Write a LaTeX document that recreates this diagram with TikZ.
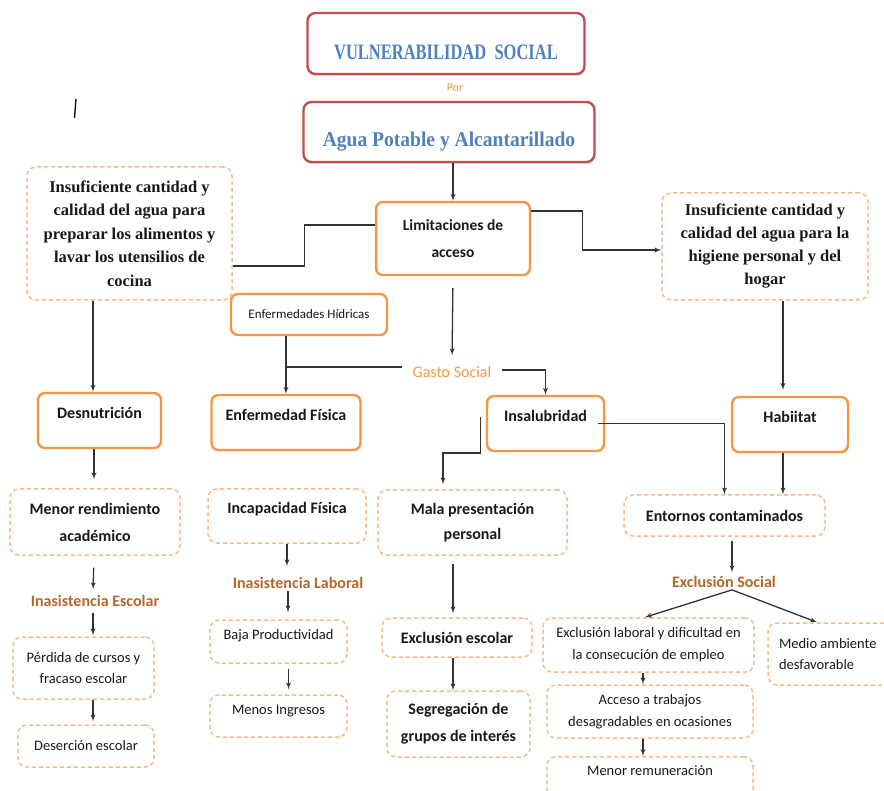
\documentclass[tikz,border=0pt]{standalone}
\usepackage{fontspec}
\setmainfont{Liberation Serif}
\setsansfont{Carlito}
\newfontfamily\titlefont[FakeStretch=0.75]{Liberation Serif}
\newfontfamily\aguafont[FakeStretch=0.93]{Liberation Serif}
\usepackage{tikz}
\usetikzlibrary{shapes,arrows,shadows}
\definecolor{redbox}{HTML}{C0504D}
\definecolor{bluetext}{HTML}{4F81BD}
\definecolor{orangebox}{HTML}{F79646}
\definecolor{orangedash}{HTML}{FAB98A}
\definecolor{browntext}{HTML}{B8652A}
\definecolor{linegray}{HTML}{333333}
\tikzstyle{titlebox} =
        [
                rectangle,
                draw = redbox,
                line width = 2.4pt,
                fill = white,
                rounded corners = 8pt,
                drop shadow = {shadow xshift=0.5pt, shadow yshift=-2pt, opacity=0.35, fill=redbox!60},
                text = bluetext,
                inner sep = 0pt,
                anchor = base
        ]
\tikzstyle{block} =
        [
                rectangle,
                draw = orangebox,
                line width = 2.4pt,
                fill = white,
                rounded corners = 7pt,
                align = center,
                text = black!90,
                inner sep = 0pt,
                font = \sffamily\bfseries\fontsize{16}{27}\selectfont
        ]
\tikzstyle{dashblock} =
        [
                rectangle,
                draw = orangedash,
                line width = 1.5pt,
                dash pattern = on 4pt off 3pt,
                rounded corners = 9pt,
                align = center,
                text = black!90,
                inner sep = 0pt,
                font = \sffamily\bfseries\fontsize{16}{27}\selectfont
        ]
\tikzstyle{small} = [font = \sffamily\fontsize{14.5}{21.5}\selectfont]
\tikzstyle{raised} = [text height = 10pt, text depth = 14pt]
\tikzstyle{tag} =
        [
                inner sep = 2pt,
                text = browntext,
                font = \sffamily\bfseries\fontsize{16}{20}\selectfont
        ]
\tikzstyle{link} =
        [
                draw = linegray,
                line width = 1.3pt
        ]
\tikzstyle{line} =
        [
                link,
                -latex'
        ]
\begin{document}
\begin{tikzpicture}[x=1pt, y=-1pt]
    \useasboundingbox (0,0) rectangle (884,791);
    % titles
    \node [titlebox, minimum width=277, text height=47pt, text depth=14pt, font=\titlefont\bfseries\fontsize{22}{26}\selectfont] (vul) at (446,60) {VULNERABILIDAD\ \ SOCIAL};
    \node [tag, text=orangebox, font=\sffamily\fontsize{12}{14}\selectfont] (por) at (455,88) {Por};
    \node [titlebox, minimum width=291, text height=45pt, text depth=15pt, font=\aguafont\bfseries\fontsize{21}{25}\selectfont] (agua) at (449,147) {Agua Potable y Alcantarillado};
    \draw [line width=1.3pt] (76,99) -- (74.5,118);

    % second row
    \node [dashblock, minimum width=205, minimum height=133, font=\rmfamily\bfseries\fontsize{16.5}{23.5}\selectfont] (alim) at (129.5,233.5) {Insuficiente cantidad y\\calidad del agua para\\preparar los alimentos y\\lavar los utensilios de\\cocina};
    \node [block, minimum width=154, minimum height=73, font=\sffamily\bfseries\fontsize{15.5}{27}\selectfont] (lim) at (453,238.5) {Limitaciones de\\acceso};
    \node [dashblock, minimum width=206, minimum height=107, font=\rmfamily\bfseries\fontsize{16.5}{23}\selectfont] (hig) at (765,246.5) {Insuficiente cantidad y\\calidad del agua para la\\higiene personal y del\\hogar};

    \node [block, minimum width=156, minimum height=41, font=\sffamily\fontsize{13}{16}\selectfont] (hid) at (309,314.5) {Enfermedades Hídricas};
    \node [tag, text=orangebox, font=\sffamily\fontsize{16}{20}\selectfont] (gasto) at (452,372) {Gasto Social};

    % orange blocks
    \node [block, raised, minimum width=123, minimum height=55] (des) at (99.5,420.5) {Desnutrición};
    \node [block, raised, minimum width=149, minimum height=55] (fis) at (286,422.5) {Enfermedad Física};
    \node [block, raised, minimum width=117, minimum height=55] (insal) at (545.5,423.5) {Insalubridad};
    \node [block, raised, minimum width=116, minimum height=55] (hab) at (790,424.5) {Habiitat};

    % consequences
    \node [dashblock, minimum width=170, minimum height=66] (menor) at (95,522) {Menor rendimiento\\académico};
    \node [dashblock, raised, minimum width=158, minimum height=54] (incap) at (287,516) {Incapacidad Física};
    \node [dashblock, minimum width=189, minimum height=65, font=\sffamily\bfseries\fontsize{16}{25}\selectfont] (mala) at (472.5,522.5) {Mala presentación\\personal};
    \node [dashblock, minimum width=201, minimum height=41] (ent) at (724.5,515.5) {Entornos contaminados};

    \node [tag] (inesc) at (95,601) {Inasistencia Escolar};
    \node [tag] (inlab) at (298,583) {Inasistencia Laboral};
    \node [tag] (exsoc) at (724,582) {Exclusión Social};

    \node [dashblock, small, minimum width=141, minimum height=62] (perd) at (83.5,668) {Pérdida de cursos y\\fracaso escolar};
    \node [dashblock, small, minimum width=136, minimum height=42] (deser) at (86,746) {Deserción escolar};
    \node [dashblock, small, raised, minimum width=137, minimum height=43] (baja) at (278.5,641.5) {Baja Productividad};
    \node [dashblock, small, raised, minimum width=137, minimum height=42] (menos) at (278.5,716) {Menos Ingresos};
    \node [dashblock, minimum width=150, minimum height=39] (exesc) at (457,637.5) {Exclusión escolar};
    \node [dashblock, minimum width=143, minimum height=66] (segr) at (458.5,724) {Segregación de\\grupos de interés};
    \node [dashblock, small, minimum width=211, minimum height=54, font=\sffamily\fontsize{14.5}{22}\selectfont] (exlab) at (648.5,645) {Exclusión laboral y dificultad en\\la consecución de empleo};
    \node [dashblock, small, minimum width=132, minimum height=62, text width=110, align=flush left] (medio) at (834,654) {Medio ambiente\\desfavorable};
    \node [dashblock, small, minimum width=206, minimum height=53] (acc) at (650,711.5) {Acceso a trabajos\\desagradables en ocasiones};
    \node [dashblock, small, anchor=north, minimum width=206, text height=19pt, text depth=40pt] (menrem) at (650,756) {Menor remuneración};

    % connectors
    \path [line] (lim.north |- agua.south) -- (lim.north);
    \path [link] ([yshift=13.5pt]lim.west) -- ++(-70,0) |- ([yshift=-32.5pt]alim.east);
    \path [line] ([yshift=27.5pt]lim.east) -- ++(51,0) |- ([yshift=-3.5pt]hig.west);
    \path [line, shorten <=12pt, shorten >=9pt] (lim.south) -- (gasto.north);
    \path [link] ([xshift=-8pt,yshift=5pt]gasto.west) -- ([yshift=5pt]gasto.west -| fis.north);
    \path [line] (hid.south -| fis.north) -- (fis.north);
    \path [line] ([xshift=8pt,yshift=2pt]gasto.east) -| (insal.north);
    \path [line] ([xshift=-7pt]insal.east) -| (ent.north);
    \path [line, shorten >=5pt] ([xshift=-5pt,yshift=6.5pt]insal.west) -- ++(0,36) -| ([xshift=-29.5pt]mala.north);
    \path [line, shorten >=6pt] ([xshift=-7pt]hab.north |- hig.south) -- ([xshift=-7pt]hab.north);
    \path [line] ([xshift=-7pt]hab.south) -- ([xshift=-7pt]hab.south |- ent.north);

    \path [line] ([xshift=-6.5pt]des.north |- alim.south) -- ([xshift=-6.5pt]des.north);
    \path [line, shorten >=9pt] ([xshift=-5.5pt]des.south) -- ([xshift=-5.5pt]des.south |- menor.north);
    \path [line, shorten <=12pt, shorten >=4pt] ([xshift=-1pt]menor.south) -- ([xshift=-2pt]inesc.north);
    \path [line, shorten <=4pt, shorten >=1pt] ([xshift=-2pt]inesc.north |- inesc.south) -- ([xshift=-2pt]inesc.north |- perd.north);
    \path [line, shorten >=3pt] ([xshift=-2pt]inesc.north |- perd.south) -- ([xshift=-2pt]inesc.north |- deser.north);

    \path [line, shorten >=9pt] (incap.south) -- (incap.south |- inlab.north);
    \path [line, shorten >=7pt] ([xshift=-10pt]inlab.south) -- ([xshift=-10pt]inlab.south |- baja.north);
    \path [line, shorten <=5pt, shorten >=5pt] ([xshift=10pt]baja.south) -- ([xshift=10pt]baja.south |- menos.north);

    \path [line, shorten <=8pt, shorten >=4pt] ([xshift=-4pt]exesc.north |- mala.south) -- ([xshift=-4pt]exesc.north);
    \path [line] ([xshift=-4pt]exesc.south) -- ([xshift=-4pt]exesc.south |- segr.north);

    \path [line, shorten <=4pt, shorten >=2pt] ([xshift=7.5pt]ent.south) -- ([xshift=7.5pt]ent.south |- exsoc.north);
    \path [line] ([xshift=8pt]exsoc.south) -- ([xshift=-3.5pt]exlab.north);
    \path [line] ([xshift=8pt]exsoc.south) -- ([xshift=-17pt]medio.north);
    \path [line] ([xshift=-7pt]acc.north |- exlab.south) -- ([xshift=-7pt]acc.north);
    \path [line] ([xshift=-7pt]acc.south) -- ([xshift=-7pt]acc.south |- menrem.north);
\end{tikzpicture}
\end{document}
